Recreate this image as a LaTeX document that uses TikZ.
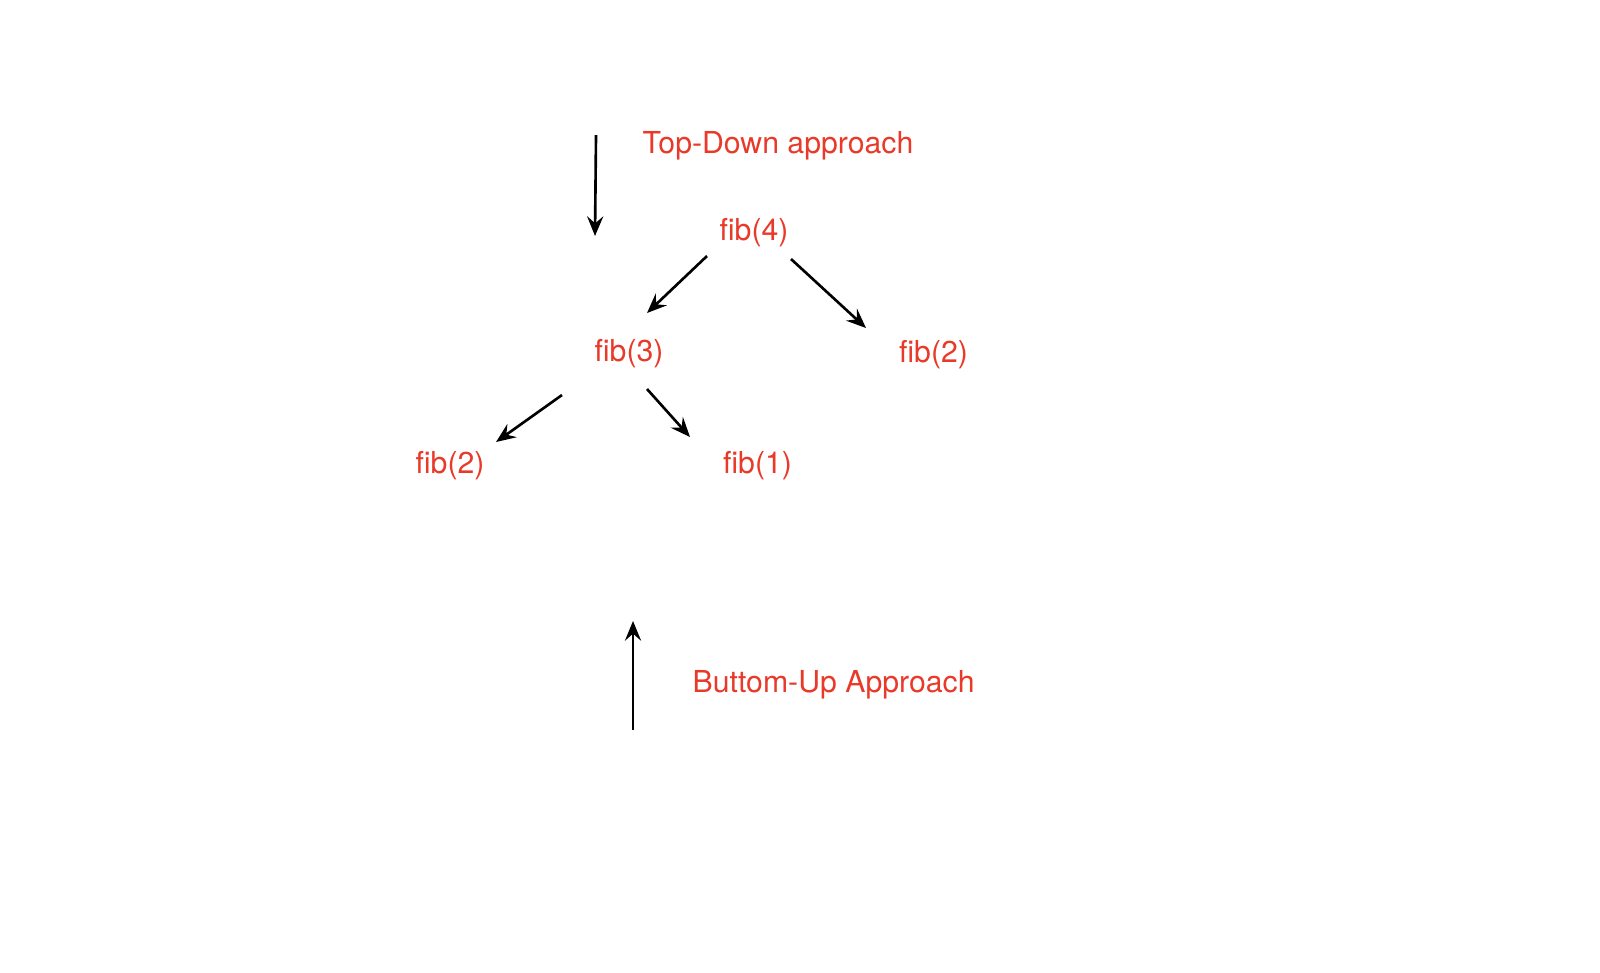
\documentclass[tikz,border=0pt]{standalone}
\usepackage{fontspec}
\setmainfont{TeX Gyre Heros}
\usetikzlibrary{arrows.meta}
\definecolor{fibred}{RGB}{232,57,41}

\begin{document}
\begin{tikzpicture}[
        lbl/.style={text=fibred, inner sep=0pt, font=\fontsize{8.6}{10}\selectfont},
        arr/.style={-{Stealth[length=5.6pt, width=4.6pt, inset=2pt]}, line width=0.75pt}
    ]
        \useasboundingbox (0, 0) rectangle (16, -9.72);

        \node[lbl, anchor=base west] (topdown) at (6.42, -1.53) {Top-Down approach};
        \node[lbl] (f4) at (7.54, -2.33) {fib(4)};
        \node[lbl] (f3) at (6.29, -3.535) {fib(3)};
        \node[lbl] (f2r) at (9.335, -3.55) {fib(2)};
        \node[lbl] (f2l) at (4.50, -4.655) {fib(2)};
        \node[lbl] (f1) at (7.575, -4.655) {fib(1)};
        \node[lbl, anchor=base west] (bottomup) at (6.92, -6.92) {Buttom-Up Approach};

        \coordinate (tdtop) at (5.96, -1.35);
        \coordinate (tdbot) at (5.95, -2.36);
        \coordinate (butop) at (6.33, -6.21);
        \coordinate (bubot) at (6.33, -7.30);

        \draw[arr] (tdtop) -- (tdbot);
        \draw[arr] ([shift={(-0.47, -0.23)}]f4.center) -- ([shift={(0.18, 0.405)}]f3.center);
        \draw[arr] ([shift={(0.37, -0.26)}]f4.center) -- ([shift={(-0.675, 0.27)}]f2r.center);
        \draw[arr] ([shift={(-0.67, -0.415)}]f3.center) -- ([shift={(0.46, 0.235)}]f2l.center);
        \draw[arr] ([shift={(0.18, -0.355)}]f3.center) -- ([shift={(-0.675, 0.285)}]f1.center);
        \draw[arr] (bubot) -- (butop);
      \end{tikzpicture}
\end{document}
